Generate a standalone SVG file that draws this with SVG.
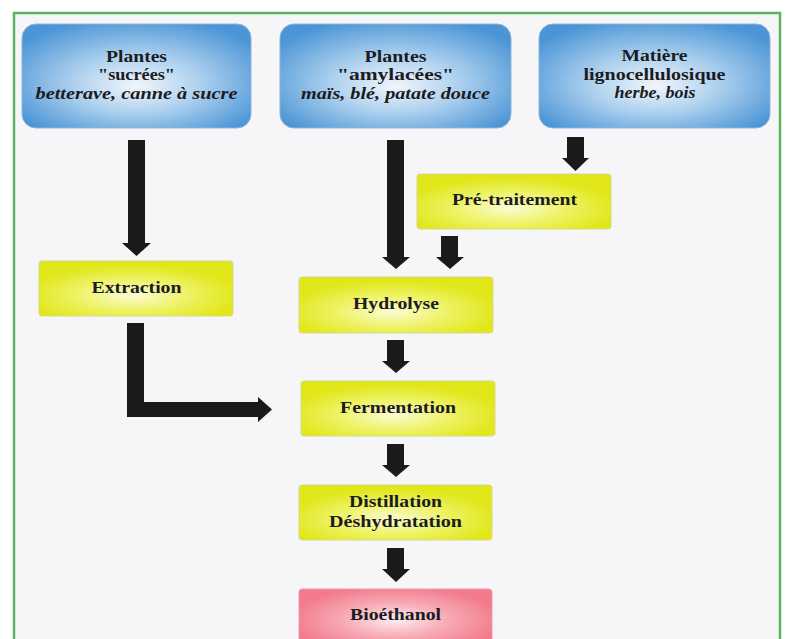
<svg xmlns="http://www.w3.org/2000/svg" width="790" height="639" viewBox="0 0 790 639">
  <defs>
    <radialGradient id="gBlue" cx="50%" cy="55%" r="62%" fx="50%" fy="60%">
      <stop offset="0" stop-color="#f1f6fb"/>
      <stop offset="0.45" stop-color="#acd0ee"/>
      <stop offset="1" stop-color="#4b95d6"/>
    </radialGradient>
    <radialGradient id="gYellow" cx="48%" cy="62%" r="55%">
      <stop offset="0" stop-color="#fbfcd2"/>
      <stop offset="0.5" stop-color="#eef36a"/>
      <stop offset="1" stop-color="#e1e719"/>
    </radialGradient>
    <radialGradient id="gPink" cx="50%" cy="50%" r="55%">
      <stop offset="0" stop-color="#fdecef"/>
      <stop offset="0.5" stop-color="#f7aab5"/>
      <stop offset="1" stop-color="#f27a8b"/>
    </radialGradient>
    <style>
      .blue { fill: url(#gBlue); stroke: #8fb4d8; stroke-width: 1; }
      .yel { fill: url(#gYellow); stroke: #d6d98c; stroke-width: 1; }
      .pink { fill: url(#gPink); stroke: #e7a0aa; stroke-width: 1; }
      .t { font-family: "Liberation Serif", "Times New Roman", serif; font-weight: bold; font-size: 17px; fill: #1b1b22; text-anchor: middle; }
      .i { font-style: italic; }
      .arr { fill: #1a1a1a; }
    </style>
  </defs>

  <rect x="0" y="0" width="790" height="639" fill="#ffffff"/>
  <rect x="14" y="13" width="766" height="640" fill="#f6f6f8" stroke="#5cb45c" stroke-width="2.5"/>

  <g id="connectors">
    <!-- sucrées -> Extraction -->
    <polygon class="arr" points="128,140 145,140 145,243 151,243 136.5,256 122,243 128,243"/>
    <!-- Extraction -> Fermentation -->
    <polygon class="arr" points="127,323 144,323 144,402 258,402 258,397 272,409.5 258,422 258,417 127,417"/>
    <!-- amylacées -> Hydrolyse -->
    <polygon class="arr" points="387,140 404,140 404,257 410,257 396,269 382,257 387,257"/>
    <!-- lignocellulosique -> Pré-traitement -->
    <polygon class="arr" points="567,137 584,137 584,158 589,158 575.5,171 562,158 567,158"/>
    <!-- Pré-traitement -> Hydrolyse -->
    <polygon class="arr" points="441,236 458,236 458,257 464,257 450,269 436,257 441,257"/>
    <!-- Hydrolyse -> Fermentation -->
    <polygon class="arr" points="387,340 404,340 404,361 410,361 396,373 382,361 387,361"/>
    <!-- Fermentation -> Distillation -->
    <polygon class="arr" points="387,444 404,444 404,465 410,465 396,477 382,465 387,465"/>
    <!-- Distillation -> Bioéthanol -->
    <polygon class="arr" points="387,548 404,548 404,569 410,569 396,582 382,569 387,569"/>
  </g>

  <g id="sucrees">
    <rect class="blue" x="22" y="24" width="229" height="104" rx="14"/>
    <text class="t" x="136.5" y="62" textLength="61" lengthAdjust="spacingAndGlyphs">Plantes</text>
    <text class="t" x="136.5" y="80" textLength="77" lengthAdjust="spacingAndGlyphs">"sucrées"</text>
    <text class="t i" x="136.5" y="99" textLength="202" lengthAdjust="spacingAndGlyphs">betterave, canne à sucre</text>
  </g>

  <g id="amylacees">
    <rect class="blue" x="280" y="24" width="231" height="104" rx="14"/>
    <text class="t" x="395.5" y="62" textLength="62" lengthAdjust="spacingAndGlyphs">Plantes</text>
    <text class="t" x="395.5" y="80" textLength="117" lengthAdjust="spacingAndGlyphs">"amylacées"</text>
    <text class="t i" x="395.5" y="99" textLength="189" lengthAdjust="spacingAndGlyphs">maïs, blé, patate douce</text>
  </g>

  <g id="lignocellulosique">
    <rect class="blue" x="539" y="24" width="231" height="104" rx="14"/>
    <text class="t" x="654.5" y="61" textLength="66" lengthAdjust="spacingAndGlyphs">Matière</text>
    <text class="t" x="654.5" y="80" textLength="142" lengthAdjust="spacingAndGlyphs">lignocellulosique</text>
    <text class="t i" x="655" y="98" textLength="81" lengthAdjust="spacingAndGlyphs">herbe, bois</text>
  </g>

  <g id="pretraitement">
    <rect class="yel" x="417" y="174" width="194" height="55" rx="3"/>
    <text class="t" x="514.5" y="205" textLength="125" lengthAdjust="spacingAndGlyphs">Pré-traitement</text>
  </g>

  <g id="extraction">
    <rect class="yel" x="39" y="261" width="194" height="55" rx="3"/>
    <text class="t" x="136.5" y="293" textLength="90" lengthAdjust="spacingAndGlyphs">Extraction</text>
  </g>

  <g id="hydrolyse">
    <rect class="yel" x="299" y="277" width="194" height="56" rx="3"/>
    <text class="t" x="396" y="309" textLength="86" lengthAdjust="spacingAndGlyphs">Hydrolyse</text>
  </g>

  <g id="fermentation">
    <rect class="yel" x="301" y="381" width="194" height="55" rx="3"/>
    <text class="t" x="398" y="413" textLength="116" lengthAdjust="spacingAndGlyphs">Fermentation</text>
  </g>

  <g id="distillation">
    <rect class="yel" x="299" y="485" width="193" height="55" rx="3"/>
    <text class="t" x="395.5" y="507" textLength="93" lengthAdjust="spacingAndGlyphs">Distillation</text>
    <text class="t" x="395.5" y="527" textLength="133" lengthAdjust="spacingAndGlyphs">Déshydratation</text>
  </g>

  <g id="bioethanol">
    <rect class="pink" x="299" y="589" width="193" height="62" rx="3"/>
    <text class="t" x="395.5" y="620" textLength="91" lengthAdjust="spacingAndGlyphs">Bioéthanol</text>
  </g>
</svg>
